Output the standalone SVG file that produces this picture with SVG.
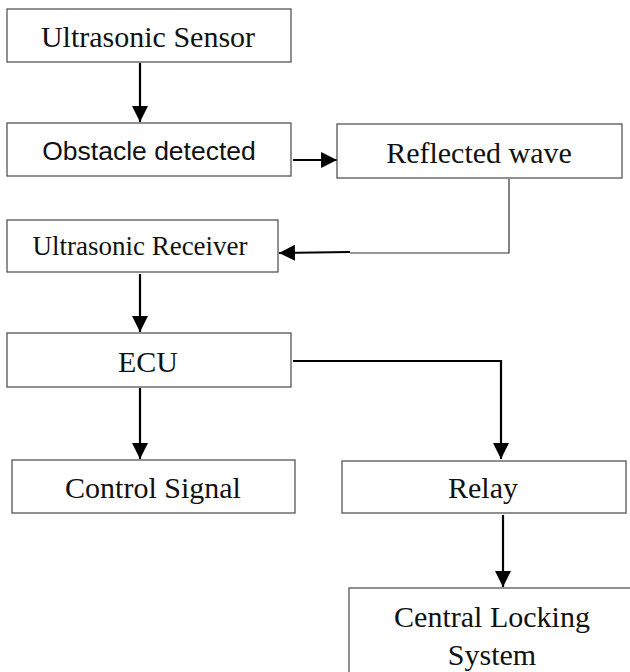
<svg xmlns="http://www.w3.org/2000/svg" width="630" height="672" viewBox="0 0 630 672">
<style>
.box{fill:#fff;stroke:#555;stroke-width:1.3}
.serif{font-family:"Liberation Serif","Times New Roman",serif;font-size:30px;fill:#111;text-anchor:middle}
.sans{font-family:"Liberation Sans",Arial,sans-serif;font-size:26.5px;fill:#111;text-anchor:middle}
.arr{fill:none;stroke:#000;stroke-width:2.2}
.thin{fill:none;stroke:#333;stroke-width:1.2}
</style>
<defs>
<marker id="ah" markerUnits="userSpaceOnUse" markerWidth="17" markerHeight="17" viewBox="0 0 16 16" refX="15" refY="8" orient="auto">
<path d="M0,0.5 L15,8 L0,15.5 Z" fill="#000"/>
</marker>
</defs>
<g id="connectors">
<line class="arr" x1="140" y1="63" x2="140" y2="122" marker-end="url(#ah)"/>
<line class="arr" x1="293" y1="160" x2="337" y2="160" marker-end="url(#ah)"/>
<polyline class="thin" points="509,179 509,253 350,253"/>
<line class="arr" x1="350" y1="252" x2="279" y2="253" marker-end="url(#ah)"/>
<line class="arr" x1="140" y1="274" x2="140" y2="332" marker-end="url(#ah)"/>
<line class="arr" x1="140" y1="388" x2="140" y2="459" marker-end="url(#ah)"/>
<polyline class="arr" points="293,361 501,361 501,459" marker-end="url(#ah)"/>
<line class="arr" x1="503" y1="515" x2="503" y2="587" marker-end="url(#ah)"/>
</g>
<g id="ultrasonic-sensor">
<rect class="box" x="7" y="9" width="284" height="53"/>
<text class="serif" x="148" y="47">Ultrasonic Sensor</text>
</g>
<g id="obstacle-detected">
<rect class="box" x="7" y="123" width="284" height="53"/>
<text class="sans" x="149" y="160">Obstacle detected</text>
</g>
<g id="reflected-wave">
<rect class="box" x="337" y="124" width="285" height="54"/>
<text class="serif" x="479" y="163">Reflected wave</text>
</g>
<g id="ultrasonic-receiver">
<rect class="box" x="7" y="220" width="271" height="52"/>
<text class="serif" x="140" y="255" style="font-size:27px">Ultrasonic Receiver</text>
</g>
<g id="ecu">
<rect class="box" x="7" y="333" width="284" height="54"/>
<text class="serif" x="148" y="372">ECU</text>
</g>
<g id="control-signal">
<rect class="box" x="12" y="460" width="283" height="53"/>
<text class="serif" x="153" y="498">Control Signal</text>
</g>
<g id="relay">
<rect class="box" x="342" y="461" width="284" height="52"/>
<text class="serif" x="483" y="498">Relay</text>
</g>
<g id="central-locking-system">
<rect class="box" x="349" y="588" width="290" height="100"/>
<text class="serif" x="492" y="627">Central Locking</text>
<text class="serif" x="492" y="665">System</text>
</g>
</svg>
